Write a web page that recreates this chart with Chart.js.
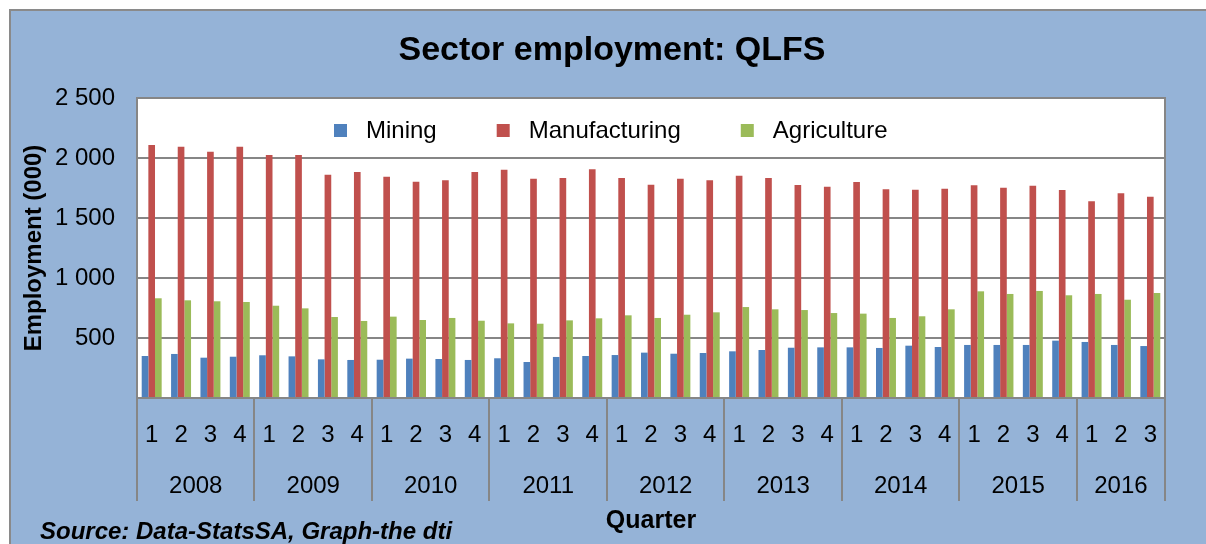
<!DOCTYPE html>
<html>
<head>
<meta charset="utf-8">
<title>Sector employment: QLFS</title>
<script src="https://cdn.jsdelivr.net/npm/chart.js@4.4.0/dist/chart.umd.min.js"></script>
<style>
  html, body { margin: 0; padding: 0; background: #fff; }
</style>
</head>
<body>
<canvas id="sectorChart" width="1206" height="544"></canvas>
<script>
// quarterly employment, thousands
const quarterLabels = ['1','2','3','4', '1','2','3','4', '1','2','3','4', '1','2','3','4',
                       '1','2','3','4', '1','2','3','4', '1','2','3','4', '1','2','3','4', '1','2','3'];
const years = ['2008','2009','2010','2011','2012','2013','2014','2015','2016'];

const mining = [350, 367, 336, 344, 356, 347, 322, 317, 319, 328, 325, 317,
                331, 300, 342, 350, 358, 378, 369, 375, 389, 400, 419, 422,
                422, 417, 436, 425, 442, 442, 442, 478, 467, 442, 433];
const manufacturing = [2108, 2094, 2053, 2094, 2025, 2025, 1861, 1883, 1844, 1803, 1814, 1883,
                       1903, 1828, 1833, 1906, 1833, 1778, 1828, 1814, 1853, 1833, 1775, 1761,
                       1800, 1739, 1736, 1744, 1772, 1753, 1769, 1733, 1639, 1706, 1678];
const agriculture = [831, 814, 806, 800, 769, 747, 675, 642, 678, 650, 667, 644,
                     622, 619, 647, 664, 689, 667, 694, 714, 758, 739, 733, 708,
                     703, 667, 681, 739, 889, 867, 892, 856, 867, 819, 875];

const yTicks = [0, 500, 1000, 1500, 2000, 2500];

const FONT = "'Liberation Sans', Arial, sans-serif";
const GRID = '#868686';

function fmt(v) {
    if (v === 0) return '';
    return String(v).replace(/\B(?=(\d{3})+(?!\d))/g, ' ');
}

// background, outer frame and white plot area
const framePlugin = {
    id: 'frame',
    beforeDraw(chart) {
        const ctx = chart.ctx, a = chart.chartArea;
        ctx.save();
        ctx.fillStyle = '#ffffff';
        ctx.fillRect(0, 0, chart.width, chart.height);
        ctx.fillStyle = '#95b3d7';
        ctx.fillRect(10, 10, chart.width - 10, chart.height - 10);
        ctx.strokeStyle = '#8a8a8a';
        ctx.lineWidth = 2;
        ctx.beginPath();
        ctx.moveTo(10, chart.height);
        ctx.lineTo(10, 10);
        ctx.lineTo(chart.width, 10);
        ctx.stroke();
        ctx.fillStyle = '#ffffff';
        ctx.fillRect(a.left, a.top, a.right - a.left, a.bottom - a.top);
        ctx.restore();
    },
    afterDraw(chart) {
        const ctx = chart.ctx, a = chart.chartArea;
        ctx.save();
        ctx.strokeStyle = GRID;
        ctx.lineWidth = 2;
        ctx.beginPath();
        ctx.moveTo(a.left, a.top);
        ctx.lineTo(a.right, a.top);
        ctx.lineTo(a.right, a.bottom);
        ctx.stroke();
        ctx.restore();
    }
};

// title, legend, year row, source note
const textPlugin = {
    id: 'texts',
    afterDraw(chart) {
        const ctx = chart.ctx;
        const xs = chart.scales.x;
        ctx.save();
        ctx.fillStyle = '#000';
        ctx.textBaseline = 'middle';

        ctx.textAlign = 'center';
        ctx.font = 'bold 34px ' + FONT;
        ctx.fillText('Sector employment: QLFS', 612, 51);

        // year labels under the quarter numbers
        ctx.font = '24px ' + FONT;
        let start = 0, y = 0;
        for (let i = 1; i <= quarterLabels.length; i++) {
            if (i === quarterLabels.length || quarterLabels[i] === '1') {
                const mid = (xs.getPixelForValue(start) + xs.getPixelForValue(i - 1)) / 2;
                ctx.fillText(years[y], mid, 486);
                start = i;
                y++;
            }
        }

        // legend inside the plot area
        ctx.font = '24px ' + FONT;
        ctx.textAlign = 'left';
        let lx = 334;
        chart.data.datasets.forEach(ds => {
            ctx.fillStyle = ds.backgroundColor;
            ctx.fillRect(lx, 124, 13, 13);
            ctx.fillStyle = '#000';
            ctx.fillText(ds.label, lx + 32, 131);
            lx += 32 + ctx.measureText(ds.label).width + 60;
        });

        ctx.font = 'italic bold 24px ' + FONT;
        ctx.fillText('Source: Data-StatsSA, Graph-the dti', 40, 532);
        ctx.restore();
    }
};

const ctx = document.getElementById('sectorChart');

new Chart(ctx, {
    type: 'bar',
    data: {
        labels: quarterLabels,
        datasets: [
            { label: 'Mining', data: mining, backgroundColor: '#4f81bd' },
            { label: 'Manufacturing', data: manufacturing, backgroundColor: '#c0504d' },
            { label: 'Agriculture', data: agriculture, backgroundColor: '#9bbb59' }
        ]
    },
    options: {
        responsive: false,
        animation: false,
        devicePixelRatio: 1,
        layout: { padding: { top: 98, left: 0, right: 41, bottom: 0 } },
        datasets: { bar: { categoryPercentage: 0.68, barPercentage: 1.0 } },
        plugins: {
            legend: { display: false },
            title: { display: false },
            tooltip: { enabled: false }
        },
        scales: {
            x: {
                offset: true,
                afterFit(scale) { scale.height = 146; },
                grid: {
                    offset: true,
                    drawOnChartArea: false,
                    drawTicks: true,
                    tickLength: 103,
                    lineWidth: 2,
                    color: c => (c.tick === undefined || c.index % 4 === 0) ? GRID : 'rgba(0,0,0,0)'
                },
                border: { display: true, color: GRID, width: 2 },
                ticks: {
                    autoSkip: false,
                    maxRotation: 0,
                    padding: -80,
                    color: '#000',
                    font: { family: FONT, size: 24 }
                },
                title: {
                    display: true,
                    text: 'Quarter',
                    color: '#000',
                    font: { family: FONT, size: 25, weight: 'bold' },
                    padding: { top: 10, bottom: 8 }
                }
            },
            y: {
                min: 0,
                max: 2500,
                afterFit(scale) { scale.width = 137; },
                afterBuildTicks(scale) { scale.ticks = yTicks.map(v => ({ value: v })); },
                grid: { color: GRID, lineWidth: 2, drawTicks: false },
                border: { display: true, color: GRID, width: 2 },
                ticks: {
                    padding: 22,
                    color: '#000',
                    font: { family: FONT, size: 24 },
                    callback: v => fmt(v)
                },
                title: {
                    display: true,
                    text: 'Employment (000)',
                    color: '#000',
                    font: { family: FONT, size: 24, weight: 'bold' },
                    padding: { top: 20, bottom: 0 }
                }
            }
        }
    },
    plugins: [framePlugin, textPlugin]
});
</script>
</body>
</html>
